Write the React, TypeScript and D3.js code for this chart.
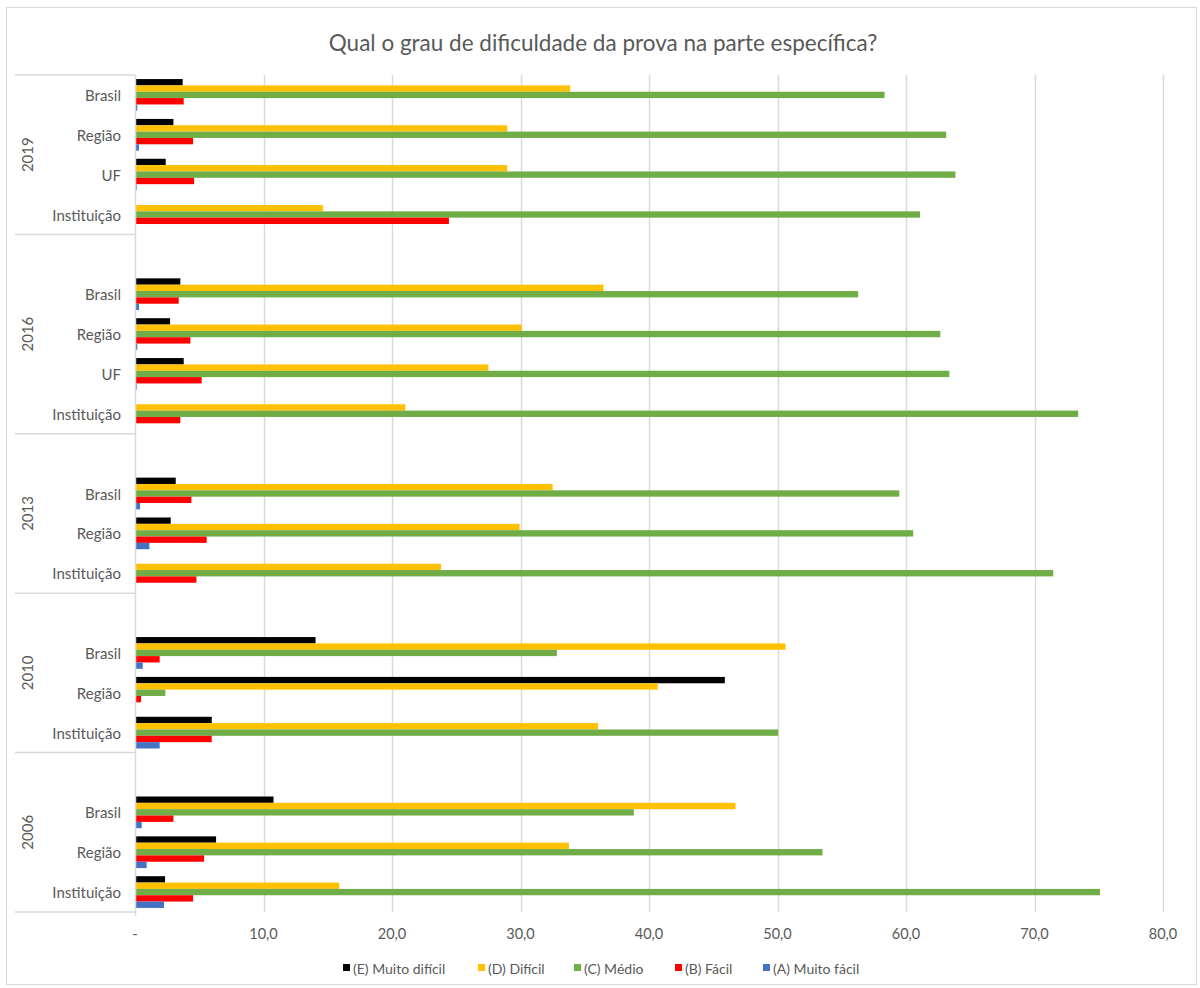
import React, { useEffect } from "react";
import * as d3 from "d3";

const chartTitle = "Qual o grau de dificuldade da prova na parte específica?";

const slotYears = [
  "2019", "2019", "2019", "2019",
  "2016", "2016", "2016", "2016", "2016",
  "2013", "2013", "2013", "2013",
  "2010", "2010", "2010", "2010",
  "2006", "2006", "2006", "2006",
];
const slotLabels = [
  "Brasil", "Região", "UF", "Instituição",
  "", "Brasil", "Região", "UF", "Instituição",
  "", "Brasil", "Região", "Instituição",
  "", "Brasil", "Região", "Instituição",
  "", "Brasil", "Região", "Instituição",
];

const seriesNames = ["(E) Muito difícil", "(D) Difícil", "(C) Médio", "(B) Fácil", "(A) Muito fácil"];
const seriesColors = ["#000000", "#FFC000", "#70AD47", "#FF0000", "#4472C4"];

const muitoDificil = [3.71, 2.99, 2.39, 0, null, 3.53, 2.73, 3.79, 0, null, 3.17, 2.78, 0, null, 14.05, 45.9, 5.97, null, 10.78, 6.31, 2.34];
const dificil = [33.86, 28.97, 28.97, 14.62, null, 36.46, 30.1, 27.5, 21.04, null, 32.5, 29.93, 23.82, null, 50.62, 40.68, 36.03, null, 46.73, 33.77, 15.89];
const medio = [58.33, 63.13, 63.85, 61.09, null, 56.28, 62.67, 63.37, 73.4, null, 59.48, 60.56, 71.46, null, 32.83, 2.36, 50.05, null, 38.82, 53.5, 75.1];
const facil = [3.79, 4.52, 4.6, 24.43, null, 3.4, 4.31, 5.19, 3.53, null, 4.39, 5.58, 4.78, null, 1.92, 0.47, 5.97, null, 2.99, 5.38, 4.52];
const muitoFacil = [0.18, 0.31, 0.13, 0, null, 0.31, 0.18, 0.13, 0, null, 0.39, 1.12, 0, null, 0.6, 0, 1.92, null, 0.52, 0.91, 2.26];

const seriesValues = [muitoDificil, dificil, medio, facil, muitoFacil];
const xTicks = [0, 10, 20, 30, 40, 50, 60, 70, 80];

const FONT = "Lato, 'Open Sans', sans-serif";
const TEXT = "#595959";
const LINE = "#d9d9d9";

export default function App() {
  useEffect(() => {
    document.body.style.margin = "0";
  }, []);

  const W = 1200, H = 988;
  const left = 135, right = 1163, top = 75, bottom = 912;

  const x = d3.scaleLinear().domain([0, 80]).range([left, right]);
  const slotIds = slotLabels.map((_, i) => String(i));
  const y = d3.scaleBand().domain(slotIds).range([top, bottom]).paddingInner(0).paddingOuter(0);
  const inner = d3.scaleBand().domain(seriesNames).range([0, y.bandwidth()]).paddingInner(0).paddingOuter(0.64);

  const years = Array.from(new Set(slotYears));
  const groups = years.map((yr) => {
    const idx = slotYears.map((s, i) => (s === yr ? i : -1)).filter((i) => i >= 0);
    const y0 = y(String(idx[0]))!;
    const y1 = y(String(idx[idx.length - 1]))! + y.bandwidth();
    return { yr, y0, y1 };
  });

  const fmt = (v: number) => (v === 0 ? "-" : d3.format(".1f")(v).replace(".", ","));

  const legendX = [343, 478, 574, 675, 763];

  return (
    <svg width={W} height={H} style={{ display: "block", fontFamily: FONT }}>
      <rect x={0} y={0} width={W} height={H} fill="#ffffff" />
      <rect x={6.5} y={7.5} width={1190} height={977} fill="#ffffff" stroke={LINE} strokeWidth={1} />
      <text x={603} y={42} textAnchor="middle" dominantBaseline="central" fontSize={22.5} fill={TEXT}>
        {chartTitle}
      </text>

      {/* gridlines */}
      {xTicks.filter((t) => t > 0).map((t) => (
        <line key={"g" + t} x1={Math.round(x(t)) + 0.5} x2={Math.round(x(t)) + 0.5} y1={top} y2={bottom} stroke={LINE} strokeWidth={1.5} />
      ))}

      {/* bars */}
      {slotIds.map((sid, i) => (
        <g key={"s" + sid}>
          {seriesValues.map((vals, si) => {
            const v = vals[i];
            if (v == null || v === 0) return null;
            return (
              <rect
                key={si}
                x={x(0)}
                y={y(sid)! + inner(seriesNames[si])!}
                width={x(v) - x(0)}
                height={inner.bandwidth()}
                fill={seriesColors[si]}
              />
            );
          })}
        </g>
      ))}

      {/* category axis */}
      <line x1={left + 0.5} x2={left + 0.5} y1={top} y2={bottom + 4} stroke={LINE} strokeWidth={1.5} />
      {groups.map((g, gi) => (
        <g key={"grp" + g.yr}>
          {gi === 0 && <line x1={15} x2={left} y1={g.y0} y2={g.y0} stroke={LINE} strokeWidth={1.5} />}
          <line x1={15} x2={left} y1={g.y1} y2={g.y1} stroke={LINE} strokeWidth={1.5} />
          <text
            transform={`translate(27,${(g.y0 + g.y1) / 2}) rotate(-90)`}
            textAnchor="middle"
            dominantBaseline="central"
            fontSize={15}
            fill={TEXT}
          >
            {g.yr}
          </text>
        </g>
      ))}
      {slotIds.map((sid, i) =>
        slotLabels[i] ? (
          <text key={"l" + sid} x={121} y={y(sid)! + y.bandwidth() / 2} textAnchor="end" dominantBaseline="central" fontSize={15} fill={TEXT}>
            {slotLabels[i]}
          </text>
        ) : null
      )}

      {/* value axis labels */}
      {xTicks.map((t) => (
        <text key={"t" + t} x={x(t)} y={933} textAnchor="middle" dominantBaseline="central" fontSize={14.5} fill={TEXT}>
          {fmt(t)}
        </text>
      ))}

      {/* legend */}
      {seriesNames.map((n, i) => (
        <g key={"lg" + i} transform={`translate(${legendX[i]},968)`}>
          <rect x={0} y={-4} width={7} height={7} fill={seriesColors[i]} />
          <text x={10} y={0} dominantBaseline="central" fontSize={14} fill={TEXT}>
            {n}
          </text>
        </g>
      ))}
    </svg>
  );
}
